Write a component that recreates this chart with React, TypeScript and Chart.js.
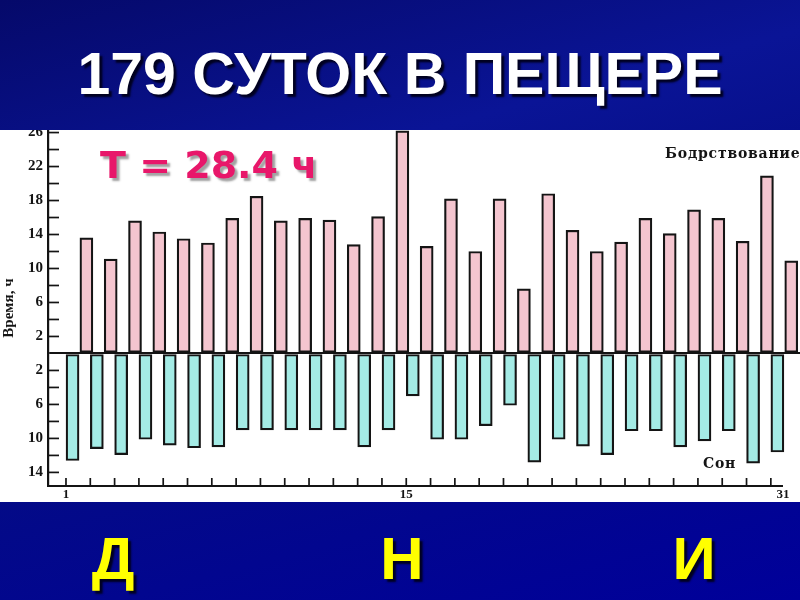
import React, { useEffect, useRef } from "react";
import { Chart, registerables } from "chart.js";

Chart.register(...registerables);

// ---- data ----
const DAYS = [1, 2, 3, 4, 5, 6, 7, 8, 9, 10, 11, 12, 13, 14, 15, 16, 17, 18, 19, 20, 21, 22, 23, 24, 25, 26, 27, 28, 29, 30];
const WAKE_HOURS = [13.6, 11.1, 15.6, 14.3, 13.5, 13.0, 15.9, 18.5, 15.6, 15.9, 15.7, 12.8, 16.1, 26.2, 12.6, 18.2, 12.0, 18.2, 7.6, 18.8, 14.5, 12.0, 13.1, 15.9, 14.1, 16.9, 15.9, 13.2, 20.9, 10.9];
const SLEEP_HOURS = [12.6, 11.2, 11.9, 10.1, 10.8, 11.1, 11.0, 9.0, 9.0, 9.0, 9.0, 9.0, 11.0, 9.0, 5.0, 10.1, 10.1, 8.5, 6.1, 12.8, 10.1, 10.9, 11.9, 9.1, 9.1, 11.0, 10.3, 9.1, 12.9, 11.6];
const Y_TICK_VALUES = [-14, -12, -10, -8, -6, -4, -2, 0, 2, 4, 6, 8, 10, 12, 14, 16, 18, 20, 22, 24, 26];
const Y_LABEL_VALUES = [2, 6, 10, 14, 18, 22, 26];
const X_LABELS = ["1", "15", "31"];
const X_LABEL_POSITIONS = [1, 15, 30.5];

const TITLE = "179 СУТОК В ПЕЩЕРЕ";
const PERIOD_TEXT = "Т = 28.4 ч";
const WAKE_LABEL = "Бодрствование";
const SLEEP_LABEL = "Сон";
const Y_TITLE = "Время, ч";
const BOTTOM_LETTERS = ["Д", "Н", "И"];

// ---- layout constants ----
const SLEEP_OFFSET = 0.27;
const WAKE_OFFSET = 0.84;
const X_MIN = 0.26;
const X_MAX = 31.2;
const X_AXIS_END = 30.5;
const Y_MIN = -15.6;
const Y_MAX = 26.3;

const INK = "#141414";
const SERIF = '"Liberation Serif", "DejaVu Serif", serif';

const decorPlugin = {
  id: "decor",
  afterDatasetsDraw(chart: any) {
    const { ctx, chartArea, scales } = chart;
    const xs = scales.x;
    const ys = scales.y;
    ctx.save();
    ctx.strokeStyle = INK;
    ctx.lineWidth = 1.7;
    ys.ticks.forEach((t: any) => {
      const v = t.value;
      if (v === 0) return;
      const py = ys.getPixelForValue(v);
      ctx.beginPath();
      ctx.moveTo(chartArea.left, py);
      ctx.lineTo(chartArea.left + 11, py);
      ctx.stroke();
    });
    DAYS.forEach((d) => {
      const px = xs.getPixelForValue(d);
      ctx.beginPath();
      ctx.moveTo(px, chartArea.bottom);
      ctx.lineTo(px, chartArea.bottom - 8);
      ctx.stroke();
    });
    ctx.lineWidth = 2.2;
    ctx.beginPath();
    ctx.moveTo(chartArea.left, chartArea.bottom);
    ctx.lineTo(xs.getPixelForValue(X_AXIS_END), chartArea.bottom);
    ctx.stroke();
    ctx.restore();
  },
  afterDraw(chart: any) {
    const { ctx } = chart;
    ctx.save();
    ctx.textBaseline = "alphabetic";
    ctx.textAlign = "left";
    // period annotation
    ctx.font = 'bold 38px "DejaVu Sans", sans-serif';
    ctx.shadowColor = "rgba(70,70,70,0.5)";
    ctx.shadowOffsetX = 3;
    ctx.shadowOffsetY = 3;
    ctx.shadowBlur = 2;
    ctx.fillStyle = "#e8176a";
    ctx.fillText(PERIOD_TEXT, 100, 48);
    ctx.shadowColor = "transparent";
    // series labels
    ctx.fillStyle = INK;
    ctx.font = 'bold 14px "DejaVu Serif", serif';
    try {
      (ctx as any).letterSpacing = "0.8px";
    } catch (e) {}
    ctx.fillText(WAKE_LABEL, 665, 28);
    ctx.fillText(SLEEP_LABEL, 703, 338);
    ctx.restore();
  },
};

function ChartPanel() {
  const ref = useRef<HTMLCanvasElement | null>(null);
  useEffect(() => {
    if (!ref.current) return;
    const chart = new Chart(ref.current, {
      type: "bar",
      data: {
        datasets: [
          {
            label: SLEEP_LABEL,
            data: SLEEP_HOURS.map((v, i) => ({ x: DAYS[i] + SLEEP_OFFSET, y: -v })),
            backgroundColor: "#a4ebe5",
            borderColor: INK,
            borderWidth: 2.2,
            borderSkipped: false,
            barThickness: 13,
            grouped: false,
          } as any,
          {
            label: WAKE_LABEL,
            data: WAKE_HOURS.map((v, i) => ({ x: DAYS[i] + WAKE_OFFSET, y: v })),
            backgroundColor: "#f4c5cf",
            borderColor: INK,
            borderWidth: 2.2,
            borderSkipped: false,
            barThickness: 13,
            grouped: false,
          } as any,
        ],
      },
      options: {
        animation: false,
        responsive: false,
        maintainAspectRatio: false,
        layout: { padding: 0 },
        plugins: {
          legend: { display: false },
          tooltip: { enabled: false },
          title: { display: false },
        },
        scales: {
          x: {
            type: "linear",
            min: X_MIN,
            max: X_MAX,
            offset: false,
            grid: { display: false, drawTicks: false, offset: false },
            border: { display: false },
            afterBuildTicks: (scale: any) => {
              scale.ticks = X_LABEL_POSITIONS.map((v) => ({ value: v }));
            },
            afterFit: (scale: any) => {
              scale.height = 16;
              scale.paddingLeft = 0;
              scale.paddingRight = 0;
            },
            ticks: {
              autoSkip: false,
              maxRotation: 0,
              minRotation: 0,
              padding: 1,
              color: INK,
              font: { family: SERIF, size: 13, weight: "bold" },
              callback: (value: any) => {
                const idx = X_LABEL_POSITIONS.indexOf(Number(value));
                return idx >= 0 ? X_LABELS[idx] : "";
              },
            },
          },
          y: {
            type: "linear",
            min: Y_MIN,
            max: Y_MAX,
            afterBuildTicks: (scale: any) => {
              scale.ticks = Y_TICK_VALUES.map((v) => ({ value: v }));
            },
            afterFit: (scale: any) => {
              scale.width = 48;
              scale.paddingTop = 0;
              scale.paddingBottom = 0;
            },
            grid: {
              drawTicks: false,
              lineWidth: 2,
              color: (c: any) => (c.tick && c.tick.value === 0 ? INK : "rgba(0,0,0,0)"),
            },
            border: { display: true, color: INK, width: 2.2 },
            title: {
              display: true,
              text: Y_TITLE,
              color: INK,
              padding: 0,
              font: { family: SERIF, size: 15, weight: "bold" },
            },
            ticks: {
              autoSkip: false,
              padding: 5,
              color: INK,
              font: { family: SERIF, size: 15, weight: "bold" },
              callback: (value: any) => {
                const a = Math.abs(Number(value));
                return Y_LABEL_VALUES.includes(a) ? String(a) : "";
              },
            },
          },
        },
      },
      plugins: [decorPlugin],
    });
    return () => chart.destroy();
  }, []);
  return <canvas ref={ref} width={800} height={372} style={{ width: 800, height: 372, display: "block" }} />;
}

export default function App() {
  const letterCenters = [113, 402, 694];
  return (
    <div
      style={{
        position: "fixed",
        left: 0,
        top: 0,
        width: 800,
        height: 600,
        overflow: "hidden",
        background: "linear-gradient(165deg, #05096a 0%, #0a1496 30%, #040c84 55%, #00009a 100%)",
        fontFamily: '"Liberation Sans", Arial, sans-serif',
      }}
    >
      <div
        style={{
          position: "absolute",
          top: 45,
          left: 0,
          width: 800,
          textAlign: "center",
          color: "#ffffff",
          fontWeight: "bold",
          fontSize: 59,
          lineHeight: "59px",
          whiteSpace: "nowrap",
          textShadow: "3px 3px 2px #000020",
        }}
      >
        {TITLE}
      </div>
      <div style={{ position: "absolute", top: 130, left: 0, width: 800, height: 372, background: "#ffffff" }}>
        <ChartPanel />
      </div>
      {BOTTOM_LETTERS.map((ch, i) => (
        <div
          key={ch}
          style={{
            position: "absolute",
            top: 529,
            left: letterCenters[i],
            transform: "translateX(-50%)",
            color: "#ffff00",
            fontWeight: "bold",
            fontSize: 60,
            lineHeight: "60px",
            textShadow: "3px 3px 2px #000020",
          }}
        >
          {ch}
        </div>
      ))}
    </div>
  );
}
